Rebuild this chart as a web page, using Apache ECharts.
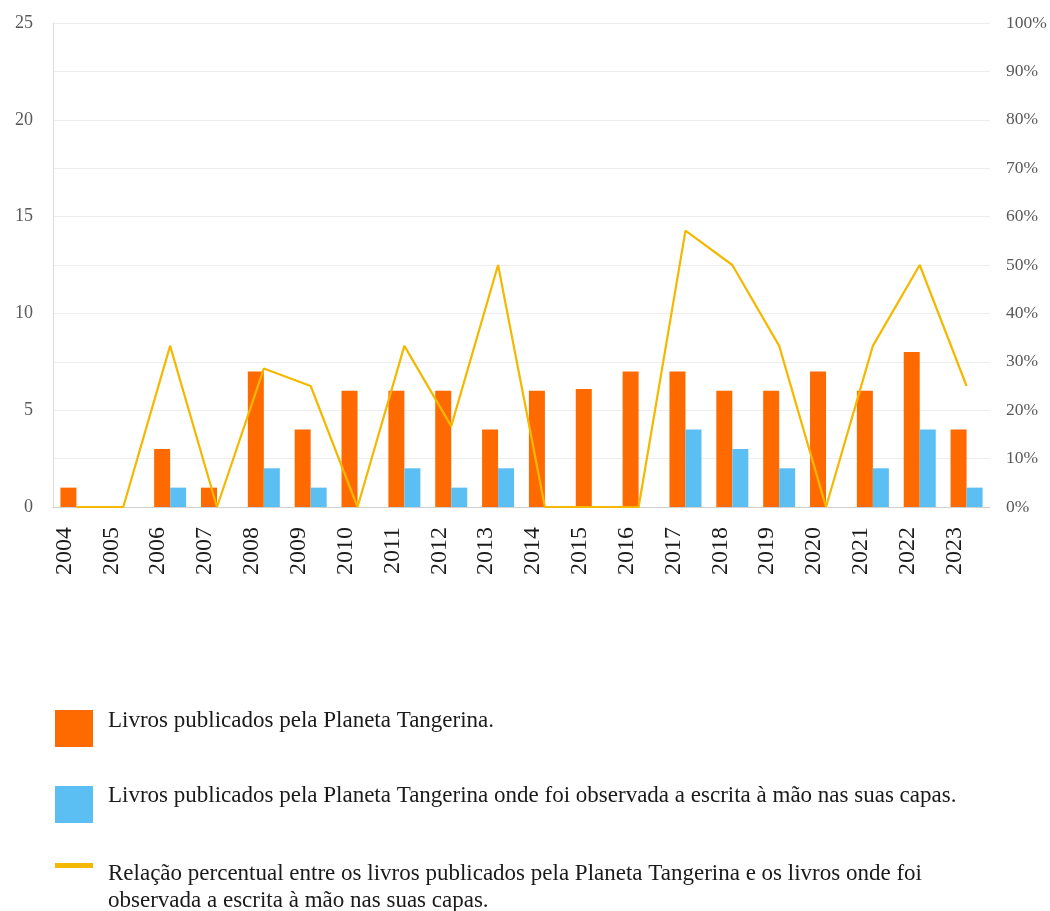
<!DOCTYPE html>
<html>
<head>
<meta charset="utf-8">
<script src="https://cdn.jsdelivr.net/npm/echarts@6/dist/echarts.min.js"></script>
<style>
	html, body { margin: 0; padding: 0; background: #fff; }
	#grafico { width: 1050px; height: 911px; }
</style>
</head>
<body>
<div id="grafico"></div>
<script>
// Dados
const anos = ['2004', '2005', '2006', '2007', '2008', '2009', '2010', '2011', '2012', '2013',
	'2014', '2015', '2016', '2017', '2018', '2019', '2020', '2021', '2022', '2023'];
const livrosPublicados = [1, 0, 3, 1, 7, 4, 6, 6, 6, 4, 6, 6.1, 7, 7, 6, 6, 7, 6, 8, 4];
const livrosEscritaMao = [0, 0, 1, 0, 2, 1, 0, 2, 1, 2, 0, 0, 0, 4, 3, 2, 0, 2, 4, 1];
const relacaoPercentual = [0, 0, 0.333, 0, 0.286, 0.25, 0, 0.333, 0.167, 0.5,
	0, 0, 0, 0.571, 0.5, 0.333, 0, 0.333, 0.5, 0.25];

const nomesSeries = [
	'Livros publicados pela Planeta Tangerina.',
	'Livros publicados pela Planeta Tangerina onde foi observada a escrita à mão nas suas capas.',
	'Relação percentual entre os livros publicados pela Planeta Tangerina e os livros onde foi\nobservada a escrita à mão nas suas capas.'
];

const cores = ['#FF6A00', '#5BBFF3', '#F4B800'];
const fonte = '"Liberation Serif", "Times New Roman", serif';

const grafico = echarts.init(document.getElementById('grafico'));

const option = {
	animation: false,
	textStyle: { fontFamily: fonte },
	grid: { left: 53, right: 60, top: 23, bottom: 404 },
	xAxis: {
		type: 'category',
		data: anos,
		axisLine: { lineStyle: { color: '#d0d0d0' } },
		axisTick: { show: false },
		axisLabel: {
			rotate: 90,
			interval: 0,
			margin: 20,
			fontSize: 24,
			color: '#1a1a1a',
			fontFamily: fonte,
			verticalAlign: 'bottom'
		}
	},
	yAxis: [{
		type: 'value',
		min: 0,
		max: 25,
		interval: 2.5,
		axisLine: { show: true, lineStyle: { color: '#dcdcdc' } },
		axisTick: { show: false },
		splitLine: { lineStyle: { color: '#ededed' } },
		axisLabel: {
			fontSize: 18,
			color: '#595959',
			fontFamily: fonte,
			margin: 20,
			formatter: v => (v % 5 === 0 ? String(v) : '')
		}
	}, {
		type: 'value',
		min: 0,
		max: 1,
		interval: 0.1,
		axisLine: { show: false },
		axisTick: { show: false },
		splitLine: { show: false },
		axisLabel: {
			fontSize: 17.5,
			color: '#595959',
			fontFamily: fonte,
			margin: 16,
			formatter: v => Math.round(v * 100) + '%'
		}
	}],
	series: [{
		name: nomesSeries[0],
		type: 'bar',
		data: livrosPublicados,
		barWidth: 16,
		barGap: '0%',
		itemStyle: { color: cores[0] }
	}, {
		name: nomesSeries[1],
		type: 'bar',
		data: livrosEscritaMao,
		barWidth: 16,
		barGap: '0%',
		itemStyle: { color: cores[1] }
	}, {
		name: nomesSeries[2],
		type: 'line',
		yAxisIndex: 1,
		data: relacaoPercentual,
		symbol: 'none',
		lineStyle: { color: cores[2], width: 2.2 },
		itemStyle: { color: cores[2] },
		z: 5
	}],
	// legenda desenhada à mão (caixas grandes, texto em duas linhas)
	graphic: [
		{ type: 'rect', left: 55, top: 710, shape: { width: 38, height: 37 }, style: { fill: cores[0] } },
		{ type: 'text', left: 108, top: 709, style: { text: nomesSeries[0], font: '23px ' + fonte, fill: '#1a1a1a' } },
		{ type: 'rect', left: 55, top: 786, shape: { width: 38, height: 37 }, style: { fill: cores[1] } },
		{ type: 'text', left: 108, top: 784, style: { text: nomesSeries[1], font: '23px ' + fonte, fill: '#1a1a1a' } },
		{ type: 'rect', left: 55, top: 863, shape: { width: 38, height: 5 }, style: { fill: cores[2] } },
		{ type: 'text', left: 108, top: 860, style: { text: nomesSeries[2], font: '23px ' + fonte, fill: '#1a1a1a', lineHeight: 27 } }
	]
};

grafico.setOption(option);
</script>
</body>
</html>
